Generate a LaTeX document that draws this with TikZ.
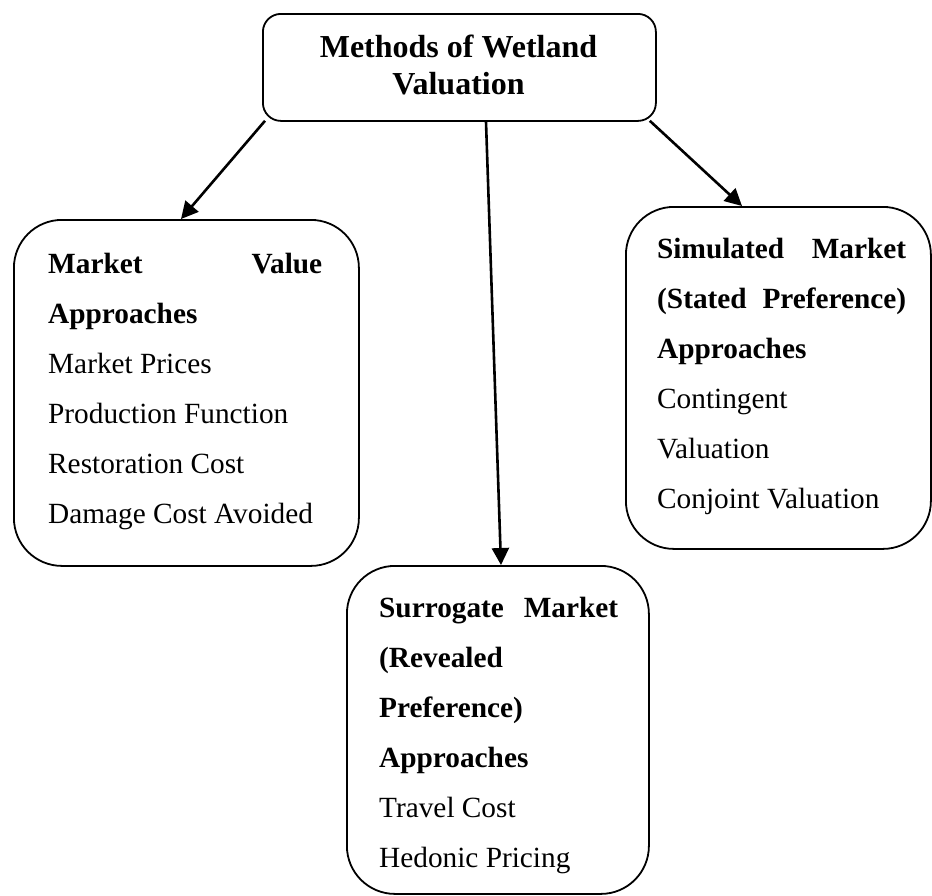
\documentclass[tikz,border=0pt]{standalone}
\usepackage{fontspec}
\setmainfont{Liberation Serif}
\usetikzlibrary{arrows.meta}

\tikzset{
  box/.style={draw, line width=1.8pt, anchor=north west, inner sep=0pt, rounded corners=#1},
  box/.default=48pt,
  body/.style={anchor=base west, inner sep=0pt, align=left},
  link/.style={draw, line width=2.6pt, -{Triangle[length=17pt,width=17pt]}},
}

\newcommand{\bodyfont}{\fontsize{29.3}{50.1}\selectfont}

\begin{document}
\begin{tikzpicture}[x=1pt, y=-1pt]
  \useasboundingbox (0,0) rectangle (932,895);

  % frames
  \node[box=18pt, minimum width=393pt, minimum height=107pt] (top) at (262,13) {};
  \node[box, minimum width=345pt, minimum height=346pt] (mv) at (13,219) {};
  \node[box, minimum width=305pt, minimum height=342pt] (sim) at (625,206) {};
  \node[box, minimum width=302pt, minimum height=328pt] (sur) at (346,565) {};

  % title (base anchor sits on the last line)
  \node[anchor=base, inner sep=0pt, align=center, font=\bfseries\fontsize{32}{37}\selectfont]
    (toptext) at (458.5,94) {Methods of Wetland\\Valuation};

  % market value approaches
  \node[body] (mvtext) at (48,273) {\parbox[t]{300pt}{\bodyfont
    \makebox[274pt][s]{\textbf{Market\hfill Value}}\\
    \textbf{Approaches}\\
    Market Prices\\
    Production Function\\
    Restoration Cost\\
    Damage Cost Avoided}};

  % simulated market approaches
  \node[body] (simtext) at (657,258) {\parbox[t]{260pt}{\bodyfont
    \makebox[249pt][s]{\textbf{Simulated\hfill Market}}\\
    \makebox[249pt][s]{\textbf{(Stated\hfill Preference)}}\\
    \textbf{Approaches}\\
    Contingent\\
    Valuation\\
    Conjoint Valuation}};

  % surrogate market approaches
  \node[body] (surtext) at (379,617) {\parbox[t]{250pt}{\bodyfont
    \makebox[239pt][s]{\textbf{Surrogate\hfill Market}}\\
    \textbf{(Revealed}\\
    \textbf{Preference)}\\
    \textbf{Approaches}\\
    Travel Cost\\
    Hedonic Pricing}};

  % connectors
  \draw[link] ([xshift=3pt,yshift=1pt]top.south west) -- ([xshift=168pt]mv.north west);
  \draw[link] ([xshift=224pt]top.south west) -- ([xshift=155pt]sur.north west);
  \draw[link] ([xshift=-7pt,yshift=1pt]top.south east) -- ([xshift=117pt]sim.north west);
\end{tikzpicture}
\end{document}
